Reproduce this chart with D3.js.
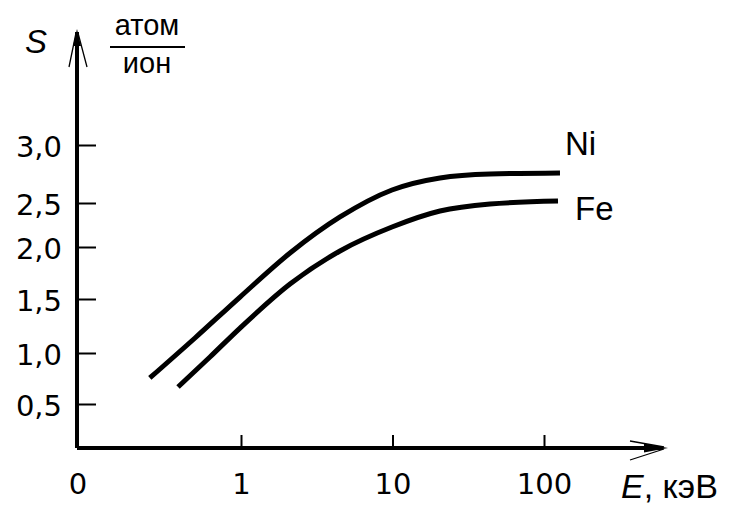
<!DOCTYPE html>
<html>
<head>
<meta charset="utf-8">
<script src="https://cdn.jsdelivr.net/npm/d3@7"></script>
<style>
  body { margin: 0; background: #fff; }
  .tick text { font-family: "DejaVu Sans", sans-serif; font-size: 29px; fill: #000; }
  .lbl { font-family: "Liberation Sans", Arial, sans-serif; fill: #000; }
</style>
</head>
<body>
<div id="chart"></div>
<script>
// data: sputtering yield S (atom/ion) vs ion energy E (keV)
var energyNi = [0.25, 0.497, 0.985, 2.106, 4.503, 9.92, 20.58, 44.0, 127.5];
var yieldNi = [0.755, 1.139, 1.519, 1.942, 2.341, 2.612, 2.716, 2.75, 2.759];
var energyFe = [0.384, 0.624, 0.985, 2.106, 4.503, 9.92, 20.58, 44.0, 123.7];
var yieldFe = [0.667, 0.961, 1.231, 1.644, 1.962, 2.227, 2.409, 2.489, 2.517];
var seriesNames = ["Ni", "Fe"];
var xTicks = [1, 10, 100];
var yTicks = [0.5, 1.0, 1.5, 2.0, 2.5, 3.0];

var svgWidth = 729;
var svgHeight = 506;

// corner where the two axes meet
var originX = 77;
var originY = 448;

var svg = d3.select("#chart")
  .append("svg")
  .attr("width", svgWidth)
  .attr("height", svgHeight);

// log scale on energy
var xScale = d3.scaleLog()
  .domain([1, 100])
  .range([241, 544]);

// hand drawn axis: tick spacing is uneven, so use a piecewise linear scale
var yScale = d3.scaleLinear()
  .domain(yTicks)
  .range([404, 353, 299, 247, 203, 145]);

var commaFormat = d3.formatLocale({
  decimal: ",", thousands: " ", grouping: [3], currency: ["", ""]
}).format(".1f");

// x axis ticks + labels
var xAxis = svg.append("g")
  .attr("transform", `translate(0, ${originY})`)
  .call(d3.axisBottom(xScale)
    .tickValues(xTicks)
    .tickFormat(d3.format("d"))
    .tickSize(-13)
    .tickPadding(25));
xAxis.select(".domain").remove();
xAxis.selectAll(".tick line").attr("stroke", "#000").attr("stroke-width", 2);

// y axis ticks + labels
var yAxis = svg.append("g")
  .attr("transform", `translate(${originX}, 0)`)
  .call(d3.axisLeft(yScale)
    .tickValues(yTicks)
    .tickFormat(commaFormat)
    .tickSize(-19)
    .tickPadding(15));
yAxis.select(".domain").remove();
yAxis.selectAll(".tick line").attr("stroke", "#000").attr("stroke-width", 2);
yAxis.selectAll(".tick text").attr("dy", "0.38em");

// axis lines with arrows
svg.append("path")
  .attr("d", `M${originX},${originY} V32 M${originX},${originY} H662`)
  .attr("fill", "none")
  .attr("stroke", "#000")
  .attr("stroke-width", 4);

// y arrow head
svg.append("path")
  .attr("d", "M77,29 L73,46 L81,46 Z")
  .attr("fill", "#000");
svg.append("path")
  .attr("d", "M76,33 L69,67 M78,33 L87,67")
  .attr("fill", "none")
  .attr("stroke", "#000")
  .attr("stroke-width", 1.3);

// x arrow head
svg.append("path")
  .attr("d", "M668,448 L644,443.5 L644,452.5 Z")
  .attr("fill", "#000");
svg.append("path")
  .attr("d", "M630,441 L664,447 M630,460 L664,449")
  .attr("fill", "none")
  .attr("stroke", "#000")
  .attr("stroke-width", 1.3);

// "0" at the origin
svg.append("text")
  .attr("x", 78)
  .attr("y", 494)
  .attr("text-anchor", "middle")
  .style("font-family", "DejaVu Sans, sans-serif")
  .style("font-size", "29px")
  .text("0");

// curves
var line = d3.line()
  .x(d => xScale(d[0]))
  .y(d => yScale(d[1]))
  .curve(d3.curveMonotoneX);

var niData = energyNi.map((e, i) => [e, yieldNi[i]]);
var feData = energyFe.map((e, i) => [e, yieldFe[i]]);

[niData, feData].forEach(function(data) {
  svg.append("path")
    .datum(data)
    .attr("d", line)
    .attr("fill", "none")
    .attr("stroke", "#000")
    .attr("stroke-width", 5);
});

// series labels
svg.append("text")
  .classed("lbl", true)
  .attr("x", 565)
  .attr("y", 155)
  .style("font-size", "33px")
  .text(seriesNames[0]);

svg.append("text")
  .classed("lbl", true)
  .attr("x", 575)
  .attr("y", 220)
  .style("font-size", "33px")
  .text(seriesNames[1]);

// y axis title: S, atom/ion
svg.append("text")
  .classed("lbl", true)
  .attr("x", 25)
  .attr("y", 53)
  .style("font-size", "33px")
  .style("font-style", "italic")
  .text("S");

svg.append("text")
  .classed("lbl", true)
  .attr("x", 147)
  .attr("y", 35)
  .attr("text-anchor", "middle")
  .style("font-size", "29px")
  .text("атом");

svg.append("line")
  .attr("x1", 110)
  .attr("x2", 185)
  .attr("y1", 47)
  .attr("y2", 47)
  .attr("stroke", "#000")
  .attr("stroke-width", 2);

svg.append("text")
  .classed("lbl", true)
  .attr("x", 147)
  .attr("y", 73)
  .attr("text-anchor", "middle")
  .style("font-size", "29px")
  .text("ион");

// x axis title
var xTitle = svg.append("text")
  .classed("lbl", true)
  .attr("x", 621)
  .attr("y", 498)
  .style("font-size", "34px");
xTitle.append("tspan").style("font-style", "italic").text("E");
xTitle.append("tspan").text(", кэВ");
</script>
</body>
</html>
